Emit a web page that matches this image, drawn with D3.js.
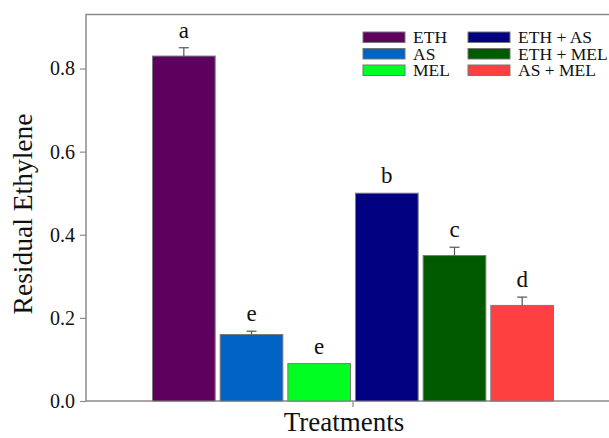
<!DOCTYPE html>
<meta charset="utf-8">
<script src="https://d3js.org/d3.v7.min.js"></script>
<style>
  body { margin: 0; background: #fff; }
  text { font-family: "Liberation Serif", "Times New Roman", serif; fill: #111; }
</style>
<div id="chart"></div>
<script>
  // data
  var treatments = ["ETH", "AS", "MEL", "ETH + AS", "ETH + MEL", "AS + MEL"];
  var values = [0.83, 0.16, 0.09, 0.50, 0.35, 0.23];
  var errors = [0.02, 0.008, 0, 0, 0.02, 0.02];
  var letters = ["a", "e", "e", "b", "c", "d"];
  var colors = ["#5e005e", "#0063c6", "#00ff21", "#000080", "#005a00", "#ff4040"];
  var yTicks = [0, 0.2, 0.4, 0.6, 0.8];

  var width = 609, height = 438;
  var plotLeft = 86, plotTop = 14.5, plotBottom = 401, plotRight = 660;

  var svg = d3.select("#chart").append("svg")
    .attr("width", width)
    .attr("height", height);

  var x = d3.scaleBand()
    .domain(treatments)
    .range([150, 556])
    .paddingInner(0.074)
    .paddingOuter(0.037);

  var y = d3.scaleLinear()
    .domain([0, 0.93])
    .range([plotBottom, plotTop]);

  // frame (left, top, bottom; right side is cut off)
  svg.append("path")
    .attr("d", "M" + plotRight + "," + plotTop + "H" + plotLeft + "V" + plotBottom + "H" + plotRight)
    .attr("fill", "none")
    .attr("stroke", "#8a8a8a")
    .attr("stroke-width", 1.5);

  // y axis
  var yAxis = svg.append("g")
    .attr("transform", "translate(" + plotLeft + ",0)")
    .call(d3.axisLeft(y).tickValues(yTicks).tickSize(6).tickPadding(5).tickFormat(d3.format(".1f")));
  yAxis.select(".domain").remove();
  yAxis.selectAll("line").attr("stroke", "#8a8a8a").attr("stroke-width", 1.2);
  yAxis.selectAll("text").style("font-size", "20px").style("font-family", "Liberation Serif").attr("fill", "#111");

  // single x tick at the centre of the group
  var xMid = (x(treatments[0]) + x(treatments[treatments.length - 1]) + x.bandwidth()) / 2;
  svg.append("line")
    .attr("x1", xMid).attr("x2", xMid)
    .attr("y1", plotBottom).attr("y2", plotBottom + 6)
    .attr("stroke", "#8a8a8a").attr("stroke-width", 1.2);

  // bars
  svg.selectAll(".bar")
    .data(treatments)
    .enter()
    .append("rect")
    .attr("class", "bar")
    .attr("x", function(d) { return x(d); })
    .attr("y", function(d, i) { return y(values[i]); })
    .attr("width", x.bandwidth())
    .attr("height", function(d, i) { return y(0) - y(values[i]); })
    .attr("fill", function(d, i) { return colors[i]; })
    .attr("stroke", "#7a7a7a")
    .attr("stroke-width", 1);

  // error bars
  treatments.forEach(function(d, i) {
    if (errors[i] <= 0) return;
    var cx = x(d) + x.bandwidth() / 2;
    var g = svg.append("g").attr("stroke", "#555").attr("stroke-width", 1.2);
    g.append("line")
      .attr("x1", cx).attr("x2", cx)
      .attr("y1", y(values[i])).attr("y2", y(values[i] + errors[i]));
    g.append("line")
      .attr("x1", cx - 5).attr("x2", cx + 5)
      .attr("y1", y(values[i] + errors[i])).attr("y2", y(values[i] + errors[i]));
  });

  // significance letters
  svg.selectAll(".letter")
    .data(treatments)
    .enter()
    .append("text")
    .attr("class", "letter")
    .attr("x", function(d) { return x(d) + x.bandwidth() / 2; })
    .attr("y", function(d, i) { return y(values[i] + errors[i]) - 10; })
    .attr("text-anchor", "middle")
    .style("font-size", "23px")
    .text(function(d, i) { return letters[i]; });

  // legend
  var legend = svg.append("g");
  var colX = [363, 468], rowY = [32, 48.5, 65];
  treatments.forEach(function(d, i) {
    var c = Math.floor(i / 3), r = i % 3;
    legend.append("rect")
      .attr("x", colX[c]).attr("y", rowY[r])
      .attr("width", 42).attr("height", 10.5)
      .attr("fill", colors[i])
      .attr("stroke", "#777").attr("stroke-width", 1);
    legend.append("text")
      .attr("x", colX[c] + 50).attr("y", rowY[r] + 11)
      .style("font-size", "17.5px")
      .text(d);
  });

  // axis titles
  svg.append("text")
    .attr("transform", "translate(32," + 214 + ") rotate(-90)")
    .attr("text-anchor", "middle")
    .style("font-size", "27.5px")
    .text("Residual Ethylene");

  svg.append("text")
    .attr("x", xMid - 9)
    .attr("y", 431)
    .attr("text-anchor", "middle")
    .style("font-size", "27px")
    .text("Treatments");
</script>
